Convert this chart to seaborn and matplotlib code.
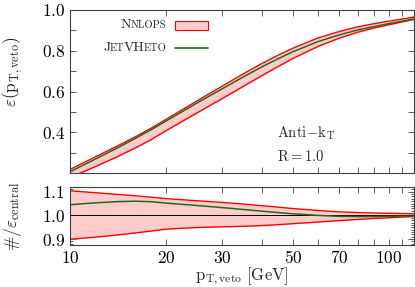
import numpy as np
import pandas as pd
import matplotlib
matplotlib.use("Agg")
import matplotlib.pyplot as plt
import seaborn as sns
from matplotlib.ticker import FixedLocator, FixedFormatter, MultipleLocator, FuncFormatter
from matplotlib.offsetbox import TextArea, HPacker, VPacker, DrawingArea, AnchoredOffsetbox
from matplotlib.patches import Rectangle
from matplotlib.lines import Line2D

# 数据
pt = [10, 12, 14, 16, 18, 20, 25, 30, 35, 40, 45, 50, 60, 70, 80, 90, 100, 110, 120]
nnlops_central = [0.1971, 0.2545, 0.3034, 0.3481, 0.3904, 0.4325, 0.5211, 0.5934, 0.6556, 0.7083,
                  0.7520, 0.7895, 0.8450, 0.8815, 0.9065, 0.9236, 0.9367, 0.9478, 0.9589]
nnlops_up = [0.2176, 0.2789, 0.3304, 0.3770, 0.4205, 0.4632, 0.5534, 0.6260, 0.6871, 0.7373,
             0.7783, 0.8124, 0.8627, 0.8947, 0.9174, 0.9328, 0.9451, 0.9554, 0.9656]
nnlops_down = [0.1772, 0.2311, 0.2782, 0.3223, 0.3646, 0.4074, 0.4945, 0.5649, 0.6254, 0.6778,
               0.7227, 0.7619, 0.8213, 0.8621, 0.8911, 0.9116, 0.9273, 0.9412, 0.9541]
jetvheto = [0.206, 0.268, 0.321, 0.369, 0.413, 0.455, 0.543, 0.613, 0.672, 0.721,
            0.761, 0.795, 0.845, 0.878, 0.902, 0.919, 0.933, 0.945, 0.956]

xtick_labels = [10, 20, 30, 50, 70, 100]

df = pd.DataFrame({"pt": pt, "central": nnlops_central, "up": nnlops_up,
                   "down": nnlops_down, "jvh": jetvheto})
for c in ["central", "up", "down", "jvh"]:
    df["r_" + c] = df[c] / df["central"]

sns.set_style("ticks")
plt.rcParams["mathtext.fontset"] = "cm"
plt.rcParams["font.family"] = ["DejaVu Serif"]
plt.rcParams["xtick.direction"] = "in"
plt.rcParams["ytick.direction"] = "in"

red = "#ff0000"
pink = "#ffcccc"
green = "#1e6b1e"
frame = "#404040"

fig = plt.figure(figsize=(4.15, 2.87), dpi=100)
ax1 = fig.add_axes([70 / 415, 1 - 173 / 287, 344 / 415, 163 / 287])
ax2 = fig.add_axes([70 / 415, 1 - 245 / 287, 344 / 415, 58 / 287])

# 上图
ax1.fill_between(df["pt"], df["down"], df["up"], color=pink, lw=0)
sns.lineplot(data=df, x="pt", y="up", ax=ax1, color=red, lw=1.0)
sns.lineplot(data=df, x="pt", y="down", ax=ax1, color=red, lw=1.0)
sns.lineplot(data=df, x="pt", y="jvh", ax=ax1, color=green, lw=1.1)

# 下图 (比值)
ax2.fill_between(df["pt"], df["r_down"], df["r_up"], color=pink, lw=0)
ax2.axhline(1.0, color="black", lw=0.7)
sns.lineplot(data=df, x="pt", y="r_up", ax=ax2, color=red, lw=1.0)
sns.lineplot(data=df, x="pt", y="r_down", ax=ax2, color=red, lw=1.0)
sns.lineplot(data=df, x="pt", y="r_jvh", ax=ax2, color=green, lw=1.1)

fs = 12.5
mfmt = FuncFormatter(lambda v, p: f"${v:.1f}$")
for ax in (ax1, ax2):
    ax.set_xscale("log")
    ax.set_xlim(10, 120)
    ax.xaxis.set_major_locator(FixedLocator(list(range(10, 121, 10))))
    ax.xaxis.set_minor_locator(FixedLocator([]))
    ax.tick_params(which="both", top=True, right=True, colors=frame,
                   labelcolor="black", labelsize=fs, width=0.6)
    ax.tick_params(which="major", length=4)
    ax.tick_params(which="minor", length=2)
    for s in ax.spines.values():
        s.set_color(frame)
        s.set_linewidth(0.8)
    ax.set_xlabel("")
    ax.set_ylabel("")

ax1.set_ylim(0.2, 1.0)
ax1.yaxis.set_major_locator(FixedLocator([0.4, 0.6, 0.8, 1.0]))
ax1.yaxis.set_minor_locator(MultipleLocator(0.1))
ax1.tick_params(which="minor", length=4)
ax1.yaxis.set_major_formatter(mfmt)
ax1.xaxis.set_major_formatter(FixedFormatter([]))
ax1.set_ylabel(r"$\varepsilon(\mathrm{p_{T,veto}})$", fontsize=fs)

ax2.set_ylim(0.875, 1.12)
ax2.yaxis.set_major_locator(FixedLocator([0.9, 1.0, 1.1]))
ax2.yaxis.set_minor_locator(MultipleLocator(0.01))
ax2.yaxis.set_major_formatter(mfmt)
ax2.xaxis.set_major_formatter(FuncFormatter(
    lambda v, p: f"${int(round(v))}$" if int(round(v)) in xtick_labels else ""))
ax2.set_ylabel(r"$\#/\varepsilon_{\mathrm{central}}$", fontsize=fs)
ax2.set_xlabel(r"$\mathrm{p_{T,veto}}\ \mathrm{[GeV]}$", fontsize=12)
ax1.yaxis.set_label_coords(-0.135, 0.62)
ax2.yaxis.set_label_coords(-0.135, 0.5)
ax2.xaxis.set_label_coords(0.5, -0.36)


# 图例 (小型大写字母)
def small_caps(parts):
    boxes = []
    for txt, big in parts:
        boxes.append(TextArea(txt, textprops=dict(fontsize=10 if big else 7.6,
                                                  family="cmr10")))
    return HPacker(children=boxes, sep=-0.6, pad=0, align="baseline")


box_handle = DrawingArea(24, 6.5, 0, 0)
box_handle.add_artist(Rectangle((0, 0), 24, 6.5, facecolor=pink, edgecolor=red, lw=0.8))
line_handle = DrawingArea(24, 6.5, 0, 0)
line_handle.add_artist(Line2D([0, 24], [3.25, 3.25], color=green, lw=1.2))

row1 = HPacker(children=[small_caps([("N", True), ("NLOPS", False)]), box_handle],
               sep=6, pad=0, align="center")
row2 = HPacker(children=[small_caps([("J", True), ("ET", False), ("VH", True), ("ETO", False)]),
                         line_handle], sep=6, pad=0, align="center")
leg = VPacker(children=[row1, row2], sep=8, pad=0, align="right")
ax1.add_artist(AnchoredOffsetbox(loc="upper right", child=leg, pad=0, borderpad=0,
                                 bbox_to_anchor=(0.401, 0.945),
                                 bbox_transform=ax1.transAxes, frameon=False))

ax1.text(0.603, 0.22, r"$\mathrm{Anti}\!-\!\mathrm{k_T}$", transform=ax1.transAxes, fontsize=10.5)
ax1.text(0.603, 0.075, r"$\mathrm{R = 1.0}$", transform=ax1.transAxes, fontsize=10.5)

fig.savefig("out.png", dpi=100)
